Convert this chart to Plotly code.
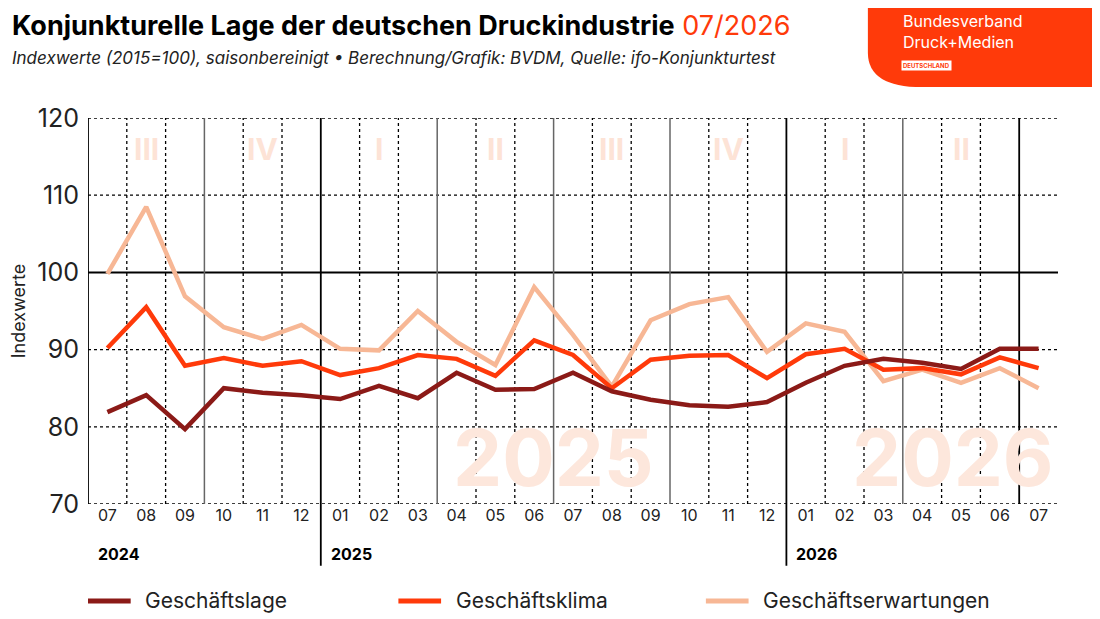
import plotly.graph_objects as go

months = ["07","08","09","10","11","12","01","02","03","04","05","06","07","08","09","10","11","12","01","02","03","04","05","06","07"]
lage = [81.9,84.1,79.7,85.0,84.4,84.1,83.6,85.3,83.7,87.0,84.8,84.9,87.0,84.6,83.5,82.8,82.6,83.2,85.7,87.9,88.8,88.3,87.5,90.1,90.1]
klima = [90.2,95.5,87.9,88.9,87.9,88.5,86.7,87.6,89.3,88.8,86.6,91.2,89.3,85.0,88.7,89.2,89.3,86.3,89.4,90.1,87.4,87.6,86.8,89.0,87.6]
erwart = [99.8,108.5,96.9,92.9,91.4,93.2,90.1,89.9,95.0,91.0,88.0,98.1,91.9,85.2,93.8,95.9,96.8,89.7,93.4,92.3,85.9,87.4,85.7,87.6,85.0]
quarters = ["III","IV","I","II","III","IV","I","II"]
quarter_pos = [1,4,7,10,13,16,19,22]
years = ["2024","2025","2026"]
year_pos = [-0.3,5.7,17.7]

x = list(range(len(months)))
F = "Inter"
fig = go.Figure()
shapes = []
for i in range(25):
    b = i + 0.5
    if b in (2.5,5.5,8.5,11.5,14.5,17.5,20.5,23.5,24.5):
        continue
    shapes.append(dict(type="line", xref="x", yref="y", x0=b, x1=b, y0=70, y1=120,
                       line=dict(color="black", width=1.3, dash="dot"), layer="below"))
for b in (2.5,8.5,11.5,14.5,20.5):
    shapes.append(dict(type="line", xref="x", yref="y", x0=b, x1=b, y0=70, y1=120,
                       line=dict(color="#666", width=1.5), layer="below"))
for b in (5.5,17.5):
    shapes.append(dict(type="line", xref="x", yref="paper", x0=b, x1=b, y0=-0.16, y1=1,
                       line=dict(color="black", width=1.8), layer="below"))
shapes.append(dict(type="line", xref="x", yref="y", x0=23.5, x1=23.5, y0=70, y1=120,
                   line=dict(color="black", width=1.8), layer="below"))
shapes.append(dict(type="line", xref="x", yref="y", x0=-0.5, x1=-0.5, y0=70, y1=120,
                   line=dict(color="black", width=1.8), layer="below"))
for v in (70,80,90,110,120):
    shapes.append(dict(type="line", xref="paper", yref="y", x0=0, x1=1, y0=v, y1=v,
                       line=dict(color="black", width=1.3, dash="dot"), layer="below"))
shapes.append(dict(type="line", xref="paper", yref="y", x0=0, x1=1.0, y0=100, y1=100,
                   line=dict(color="black", width=2), layer="below"))
# logo
shapes.append(dict(type="path", xref="paper", yref="paper",
                   path="M 0.804 1.33 L 0.804 1.17 Q 0.804 1.08 0.86 1.08 L 1.06 1.08 L 1.06 1.33 Z",
                   fillcolor="#ff3a0a", line=dict(width=0)))

ann = []
for q, p in zip(quarters, quarter_pos):
    ann.append(dict(x=p, y=116, xref="x", yref="y", text="<b>"+q+"</b>", showarrow=False,
                    font=dict(family=F, size=30, color="#fde3d6")))
ann.append(dict(x=11.5, y=76, xref="x", yref="y", text="<b>2025</b>", showarrow=False,
                font=dict(family=F, size=78, color="#fde7dc")))
ann.append(dict(x=21.8, y=76, xref="x", yref="y", text="<b>2026</b>", showarrow=False,
                font=dict(family=F, size=78, color="#fde7dc")))
for yv, p in zip(years, year_pos):
    ann.append(dict(x=p, y=-0.16, xref="x", yref="paper", text="<b>"+yv+"</b>", showarrow=False,
                    xanchor="left", font=dict(family=F, size=16, color="black")))
ann.append(dict(x=-0.08, y=1.24, xref="paper", yref="paper", xanchor="left", yanchor="middle",
                text="<b>Konjunkturelle Lage der deutschen Druckindustrie</b> <span style='color:#ff3a0a'>07/2026</span>",
                showarrow=False, font=dict(family=F, size=27, color="black")))
ann.append(dict(x=-0.08, y=1.155, xref="paper", yref="paper", xanchor="left", yanchor="middle",
                text="<i>Indexwerte (2015=100), saisonbereinigt • Berechnung/Grafik: BVDM, Quelle: ifo-Konjunkturtest</i>",
                showarrow=False, font=dict(family=F, size=17, color="#222")))
ann.append(dict(x=0.838, y=1.225, xref="paper", yref="paper", xanchor="left", yanchor="middle",
                text="Bundesverband<br>Druck+Medien", align="left", showarrow=False,
                font=dict(family=F, size=16, color="white")))
ann.append(dict(x=0.838, y=1.135, xref="paper", yref="paper", xanchor="left", yanchor="middle",
                text="<b>DEUTSCHLAND</b>", showarrow=False, bgcolor="white", borderpad=1,
                font=dict(family=F, size=6, color="#ff3a0a")))

leg = [("Geschäftslage", "#8b1a17", 0.0), ("Geschäftsklima", "#ff3a0a", 0.32), ("Geschäftserwartungen", "#f7b795", 0.637)]
for name, c, px in leg:
    shapes.append(dict(type="line", xref="paper", yref="paper", x0=px, x1=px+0.044, y0=-0.251, y1=-0.251,
                       line=dict(color=c, width=5)))
    ann.append(dict(x=px+0.057, y=-0.251, xref="paper", yref="paper", xanchor="left", yanchor="middle",
                    text=name, showarrow=False, font=dict(family=F, size=21, color="#222")))

for name, vals, c in [("Geschäftserwartungen", erwart, "#f7b795"), ("Geschäftsklima", klima, "#ff3a0a"), ("Geschäftslage", lage, "#8b1a17")]:
    fig.add_trace(go.Scatter(x=x, y=vals, mode="lines", name=name, line=dict(color=c, width=4.5)))

fig.update_layout(
    width=1100, height=619, margin=dict(l=80, r=50, t=110, b=123),
    plot_bgcolor="white", paper_bgcolor="white", showlegend=False,
    shapes=shapes, annotations=ann,
    xaxis=dict(range=[-0.5,24.5], tickvals=x, ticktext=months, showgrid=False, zeroline=False,
               tickfont=dict(family=F, size=16, color="#222"), ticks="", automargin=False),
    yaxis=dict(range=[70,120], tickvals=[70,80,90,100,110,120], showgrid=False, zeroline=False,
               tickfont=dict(family=F, size=25, color="#222"), automargin=False, ticklabelstandoff=8,
               title=dict(text="Indexwerte", font=dict(family=F, size=18, color="#222"), standoff=18)),
)
fig.write_html("out.html")
